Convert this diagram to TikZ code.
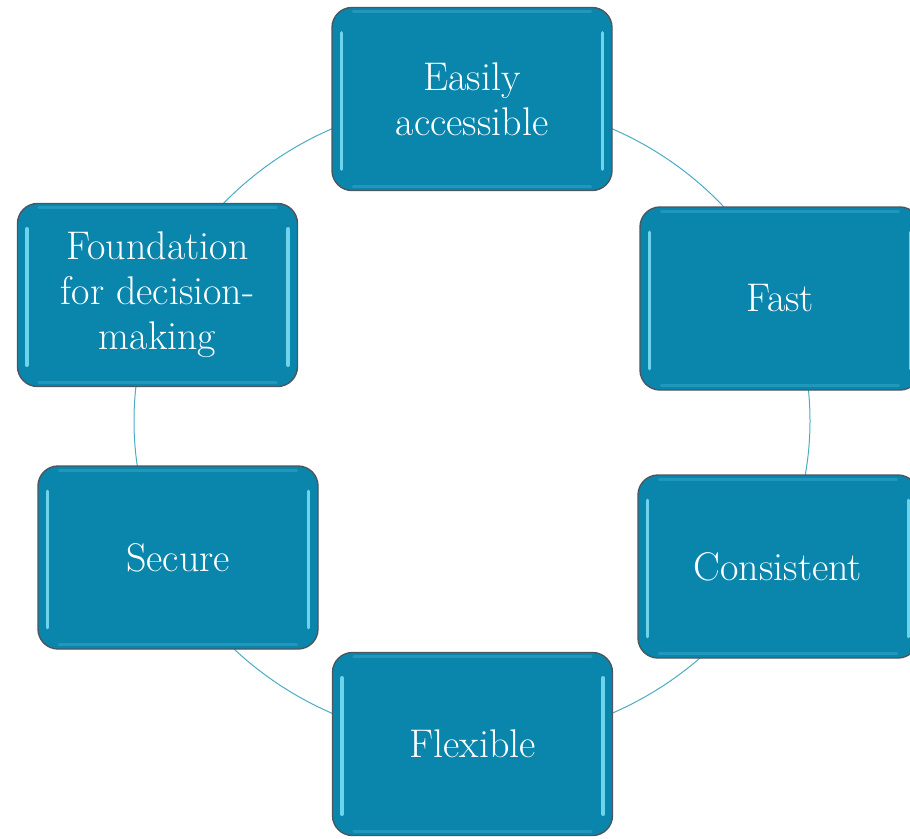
\documentclass[tikz,border=0pt]{standalone}
\usepackage{tikz}
\definecolor{boxfill}{HTML}{0A86AD}
\definecolor{boxline}{HTML}{4A5660}
\definecolor{hilite}{HTML}{7FE2F7}
\definecolor{ringcol}{HTML}{4BACC6}
\tikzset{
  gbox/.style={rectangle, rounded corners=20pt, fill=boxfill, draw=boxline, line width=1.4pt,
    minimum width=280pt, minimum height=183pt, align=center, text=white,
    font=\fontsize{40}{45}\selectfont, inner sep=0pt},
  hl/.style={draw=hilite, line width=3.5pt, line cap=round, opacity=0.85},
  topband/.style={draw=hilite, line width=3pt, opacity=0.2, line cap=round},
  ring/.style={draw=ringcol, line width=1pt}
}
\newcommand\mybox[4]{%
  \node[gbox] (#1) at (#2,#3) {#4};
  \draw[hl] ([xshift=10pt,yshift=-26pt]#1.north west) -- ([xshift=10pt,yshift=22pt]#1.south west);
  \draw[hl] ([xshift=-10pt,yshift=-26pt]#1.north east) -- ([xshift=-10pt,yshift=22pt]#1.south east);
  \draw[topband] ([xshift=22pt,yshift=-5pt]#1.north west) -- ([xshift=-22pt,yshift=-5pt]#1.north east);
  \draw[topband] ([xshift=22pt,yshift=5pt]#1.south west) -- ([xshift=-22pt,yshift=5pt]#1.south east);
}
\begin{document}
\begin{tikzpicture}[x=1pt,y=-1pt]
\useasboundingbox (0,0) rectangle (910,838);
\clip (0,0) rectangle (910,838);
\coordinate (c) at (472,421);
\draw[ring] (c) ellipse [x radius=338pt, y radius=321pt];
\mybox{easy}{472}{99}{Easily\\accessible}
\mybox{fast}{780}{298.5}{Fast}
\mybox{cons}{778}{566.5}{Consistent}
\mybox{flex}{472.5}{744}{Flexible}
\mybox{secure}{178}{557.5}{Secure}
\mybox{found}{157.5}{295}{Foundation\\for decision-\\making}
\end{tikzpicture}
\end{document}
